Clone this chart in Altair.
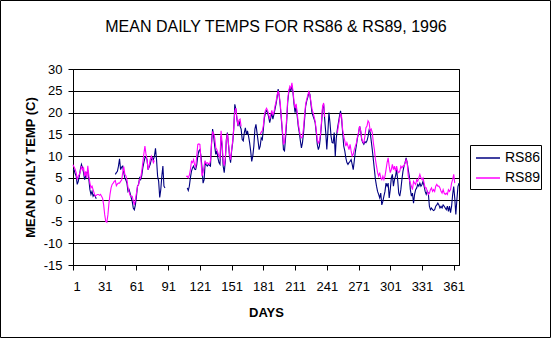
import altair as alt
import pandas as pd

TITLE = "MEAN DAILY TEMPS FOR RS86 & RS89, 1996"
X_TITLE = "DAYS"
Y_TITLE = "MEAN DAILY TEMP (C)"
SERIES = ["RS86", "RS89"]
COLORS = ["#000080", "#FF00FF"]
DAY_TICKS = [1, 31, 61, 91, 121, 151, 181, 211, 241, 271, 301, 331, 361]
Y_TICKS = [-15, -10, -5, 0, 5, 10, 15, 20, 25, 30]

# (first day, daily values) -- gaps in the record separate the segments
RS86_SEGMENTS = [
    (1, [7.0, 6.9, 6.0, 5.4, 3.5, 4.2, 5.4, 7.0, 8.1, 7.3,
         6.2, 4.6, 5.4, 6.2, 6.5, 4.6, 2.3, 1.2, 1.9, 0.8,
         1.2, 0.8, 0.2]),
    (41, [5.8, 6.2, 6.5, 7.7, 9.4, 6.9, 7.5, 7.7, 6.2, 5.0,
          4.5, 3.8, 1.9, 2.3, 1.5, 0.5, -0.4, -1.9, -2.3, -1.2,
          0.8, 3.1, 3.5, 5.0, 4.6, 5.5, 7.3, 8.5, 9.6, 9.8,
          9.2, 6.9, 7.5, 8.1, 9.2, 9.6, 9.2, 10.0, 11.8, 9.2,
          5.4, 4.2, 0.5, 2.3, 5.4, 7.7, 3.1, 2.7]),
    (109, [2.7, 2.1, 3.1, 5.0, 6.5, 7.3, 7.7, 7.0, 6.9, 8.0, 10.0, 11.2,
           11.5, 10.0, 7.3, 3.8, 4.6, 8.5, 8.0, 7.7, 8.1, 7.9,
           7.7, 13.1, 16.2, 14.6, 12.3, 10.4, 11.2, 9.6, 8.5, 8.1,
           14.6, 12.3, 7.7, 6.2, 8.8, 13.8, 15.4, 12.7, 10.0, 8.5,
           11.2, 13.1, 16.2, 21.9, 20.8, 18.5, 16.9, 18.1, 16.9, 16.2,
           13.8, 13.5, 15.4, 16.5, 15.0, 15.8, 14.6, 13.1, 11.2, 8.8,
           10.0, 12.3, 16.2, 17.3, 15.4, 13.5, 11.5, 12.3, 14.2, 13.8,
           16.2, 18.8, 20.0, 20.4, 20.0, 19.0, 17.7, 18.8, 20.0, 18.5,
           19.6, 20.8, 22.0, 23.5, 25.4, 23.8, 21.5, 18.5, 15.4, 11.5,
           11.2, 14.2, 17.7, 22.3, 24.6, 25.8, 25.0, 26.2, 24.6, 21.9,
           20.0, 21.5, 19.2, 16.9, 15.4, 13.5, 11.9, 13.1, 15.4, 18.5,
           21.5, 22.7, 23.5, 24.6, 24.2, 21.9, 20.0, 19.2, 18.5, 17.7,
           15.4, 12.7, 11.5, 12.3, 14.5, 17.5, 21.0, 21.9, 18.5, 15.4,
           11.5, 15.4, 20.0, 17.7, 14.6, 13.1, 13.0, 15.4, 10.0, 14.2,
           16.2, 17.7, 19.2, 20.4, 18.5, 15.4, 12.3, 11.2, 9.6, 8.5,
           8.1, 8.5, 8.8, 9.2, 8.1, 6.9, 9.0, 11.0, 12.5, 14.2,
           15.2, 16.9, 15.8, 13.8, 13.1, 12.7, 13.3, 13.1, 13.5, 14.5,
           16.0, 15.5, 13.5, 11.5, 9.2, 6.9, 4.6, 3.1, 1.9, 1.2,
           0.4, 1.5, -1.2, -0.4, 0.8, 1.9, 3.8, 3.1, 3.8, 0.4,
           2.3, 5.0, 5.8, 3.1, 4.6, 5.4, 6.9, 4.6, 1.5, 0.8,
           2.3, 4.6, 6.5, 7.7, 8.5, 9.6, 8.5, 6.9, 5.4, 2.3,
           0.8, 1.5, -0.8, 1.2, 2.3, 2.7, 3.5, 3.1, 3.8, 3.1,
           3.5, 4.2, 3.1, 1.9, 1.2, 1.9, 1.5, -1.5, -2.3, -1.9,
           -2.3, -2.5, -2.3, -1.5, -1.2, -0.8, -1.2, -1.9, -1.5, -1.9,
           -1.2, -1.5, -1.9, -2.3, -1.5, -2.7, -1.5, -3.0, -1.5, 1.2,
           3.0, 0.3, -3.4, 0.0, 3.0, 3.8]),
]

RS89_SEGMENTS = [
    (1, [8.0, 7.5, 7.0, 6.2, 4.6, 5.4, 5.8, 6.5, 7.7, 6.9,
         7.3, 5.4, 6.5, 5.0, 7.8, 5.4, 3.8, 2.7, 3.1, 2.3,
         1.5, 0.8, 1.0, 1.2, 1.2, 1.0, 1.2, 0.8, 0.3, -1.2,
         -3.5, -5.0, -5.2, -3.5, -0.8, 1.2, 2.7, 3.5, 3.8, 4.2,
         4.4, 3.2, 3.6, 3.8, 3.8, 4.2, 4.5, 6.2, 7.6, 5.8,
         5.5, 4.6, 2.8, 1.8, 1.0, 0.8, 0.8, -0.3, -1.2, 0.0,
         1.5, 3.1, 3.5, 4.6, 5.0, 6.5, 8.5, 10.5, 12.3, 10.5,
         9.2, 6.9, 7.8, 9.2, 10.0, 9.4, 8.5, 9.0]),
    (108, [5.3, 5.4, 5.0,
           5.6, 6.9, 8.8, 8.5, 9.2, 8.0, 7.5, 10.0, 12.7, 12.8,
           12.7, 9.2, 5.4, 6.2, 7.8, 8.8, 8.3, 8.5, 8.3, 8.1,
           9.0, 12.8, 15.5, 15.2, 14.2, 11.9, 11.5, 10.8, 10.0, 9.6,
           15.8, 13.0, 8.8, 7.8, 9.5, 13.5, 15.2, 13.0, 10.5, 9.2,
           11.5, 13.5, 16.5, 20.4, 21.0, 18.8, 17.0, 18.3, 18.5, 16.8]),
    (178, [15.0, 15.5, 15.8,
           17.0, 19.5, 20.5, 21.0, 20.5, 19.5, 18.5, 19.5, 20.5, 19.5,
           20.0, 21.5, 22.5, 24.0, 25.0, 24.0, 22.0, 19.0, 16.0, 12.8,
           13.1, 15.5, 18.5, 23.0, 25.0, 26.0, 25.5, 26.8, 25.0, 22.5,
           21.0, 22.0, 20.0, 17.5, 16.0, 14.6, 14.2, 14.5, 16.5, 19.5,
           22.0, 23.0, 24.0, 24.8, 24.0, 22.5, 20.8, 20.0, 19.0, 18.0,
           16.0, 13.8, 13.0, 13.5, 15.0, 18.0, 21.5, 22.2, 19.0]),
    (251, [15.4, 17.0, 18.5, 19.8, 19.0, 16.0, 14.6, 13.5, 12.3, 13.1,
           12.3, 11.5, 12.7, 11.2, 10.0, 10.4, 11.5, 12.3, 13.0, 14.5,
           15.4, 16.9, 15.8, 14.0, 13.3, 13.0, 14.5, 16.5, 16.9, 18.1,
           17.7, 15.8, 16.2, 15.4, 13.1, 11.5, 9.2, 7.7, 6.2, 5.4,
           6.2, 5.0, 4.6, 5.4, 4.6, 5.4, 6.9, 8.5, 9.6, 7.7,
           6.2, 6.9, 8.1, 6.9, 7.7, 6.5, 7.7, 6.5, 6.2, 6.5,
           7.7, 7.3, 7.7, 7.7, 8.5, 9.2, 8.5, 5.4, 4.6, 3.8,
           3.1, 2.3, 4.2, 3.8, 3.5, 4.6, 4.2, 5.0, 5.8, 5.0,
           4.6, 5.0, 3.8, 2.7, 2.7, 1.9, 1.2, 1.5, 2.3, 2.7,
           1.9, 2.3, 1.9, 3.1, 3.5, 3.1, 3.1, 2.7, 1.9, 1.5,
           2.3, 1.5, 1.2, 1.5, 1.2, 2.3, 1.9, 2.3, 3.8, 4.6,
           5.8, 3.8]),
]

rows = []
for name, segs in zip(SERIES, [RS86_SEGMENTS, RS89_SEGMENTS]):
    for k, (start, vals) in enumerate(segs):
        for i, v in enumerate(vals):
            rows.append({"day": start + i, "temp": v, "series": name,
                         "seg": f"{name}-{k}"})
df = pd.DataFrame(rows)

FONT = "Liberation Sans"

x_enc = alt.X(
    "day:Q",
    scale=alt.Scale(domain=[1, 366], nice=False, zero=False),
    axis=alt.Axis(
        values=DAY_TICKS, title=X_TITLE, grid=False,
        labelExpr="'' + datum.value",
        domainColor="black", tickColor="black", tickSize=5,
        labelPadding=10, labelFontSize=13, labelFont=FONT, labelColor="black",
        titleFont=FONT, titleFontSize=13, titleFontWeight="bold",
        titleColor="black", titleX=193, titleY=47, titleBaseline="middle",
        titleAlign="center",
    ),
)
y_enc = alt.Y(
    "temp:Q",
    scale=alt.Scale(domain=[-15, 30], nice=False, zero=False),
    axis=alt.Axis(
        values=Y_TICKS, title=Y_TITLE, grid=True, gridColor="black",
        gridWidth=1, gridOpacity=1,
        labelExpr="'' + datum.value",
        domainColor="black", tickColor="black", tickSize=5,
        labelPadding=6, labelFontSize=13, labelFont=FONT, labelColor="black",
        titleFont=FONT, titleFontSize=13, titleFontWeight="bold",
        titleColor="black", titleX=-43, titleY=98, titleAngle=270,
        titleBaseline="middle", titleAlign="center",
    ),
)
color_enc = alt.Color(
    "series:N",
    scale=alt.Scale(domain=SERIES, range=COLORS),
    legend=alt.Legend(
        title=None, orient="none", legendX=402, legendY=76,
        direction="vertical", padding=0, symbolType="stroke", symbolSize=576,
        symbolStrokeWidth=1.5, labelFontSize=14, labelFont=FONT,
        labelColor="black", labelOffset=4, rowPadding=-2,
    ),
)

base = alt.Chart(df)
lines = []
for name in SERIES:
    lines.append(
        base.transform_filter(alt.datum.series == name)
        .mark_line(strokeWidth=1.1)
        .encode(x=x_enc, y=y_enc, color=color_enc, detail="seg:N")
    )

box = alt.Chart(alt.Data(values=[{"k": 0}]))
frame = box.mark_rect(fillOpacity=0, stroke="black", strokeWidth=1).encode(
    x=alt.value(-72.5), x2=alt.value(477.5),
    y=alt.value(-68.5), y2=alt.value(268.5),
)
legend_box = box.mark_rect(fill="white", stroke="black", strokeWidth=1).encode(
    x=alt.value(397.5), x2=alt.value(468.5),
    y=alt.value(76.5), y2=alt.value(120.5),
)

chart = alt.layer(frame, legend_box, *lines).properties(
    width=386, height=196,
    padding={"left": 73, "top": 69, "right": 93, "bottom": 73},
    autosize=alt.AutoSizeParams(type="none"),
    background="white",
    title=alt.TitleParams(
        TITLE, font=FONT, fontSize=16, fontWeight="normal", color="black",
        anchor="middle", frame="group", dx=10, dy=48, offset=0,
        baseline="alphabetic",
    ),
).configure_view(stroke="black", strokeWidth=1, fill="white")

chart.save("out.html", embed_options={"renderer": "svg", "actions": False})
